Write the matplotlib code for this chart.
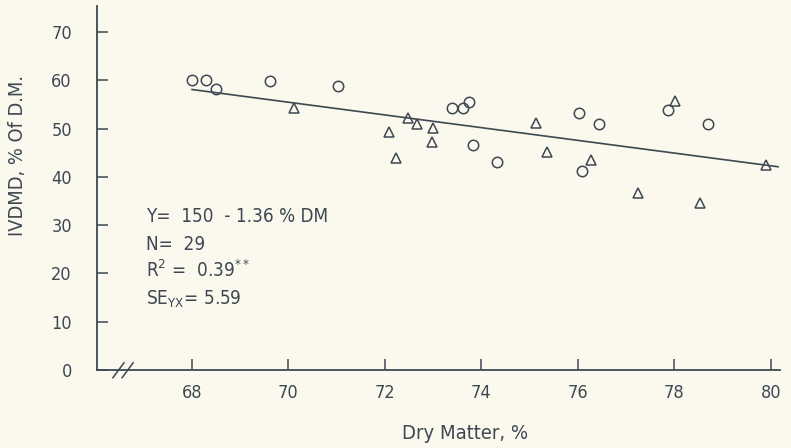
import matplotlib
matplotlib.use("Agg")
import matplotlib.pyplot as plt

# ── Data ────────────────────────────────────────────────────────────────────
circle_x = [67.99, 68.30, 68.49, 69.62, 71.03, 73.38, 73.61, 73.74, 73.82,
            74.32, 76.03, 76.44, 76.09, 77.87, 78.69]
circle_y = [60.0, 60.0, 58.3, 59.9, 58.9, 54.3, 54.2, 55.6, 46.7,
            43.1, 53.3, 51.0, 41.3, 53.8, 51.0]

tri_x = [70.11, 72.09, 72.23, 72.48, 72.67, 72.99, 72.97, 75.13, 75.35,
         76.28, 77.25, 78.02, 78.53, 79.90]
tri_y = [54.3, 49.3, 44.0, 52.1, 50.9, 50.2, 47.3, 51.2, 45.1,
         43.6, 36.7, 55.7, 34.6, 42.4]

fit_x = [68.0, 80.15]
fit_y = [58.1, 42.1]

x_ticks = [68, 70, 72, 74, 76, 78, 80]
y_ticks = [0, 10, 20, 30, 40, 50, 60, 70]

stats_lines = [
    r"Y=  150  - 1.36 % DM",
    r"N=  29",
    r"$\mathregular{R^2}$ =  0.39$\mathregular{^{**}}$",
    r"SE$\mathregular{_{YX}}$= 5.59",
]

# ── Style ───────────────────────────────────────────────────────────────────
INK = '#3d4852'
PAPER = '#fbf9ee'
plt.rcParams['font.family'] = ['DejaVu Sans']
plt.rcParams['font.stretch'] = 'condensed'
plt.rcParams['mathtext.fontset'] = 'custom'
plt.rcParams['mathtext.rm'] = 'DejaVu Sans:stretch=condensed'

fig = plt.figure(figsize=(7.91, 4.48), dpi=100, facecolor=PAPER)
ax = fig.add_axes([0.1226, 0.1741, 0.8635, 0.8125], facecolor=PAPER)

ax.plot(fit_x, fit_y, color=INK, linewidth=1.2)
ax.plot(circle_x, circle_y, linestyle='none', marker='o', markersize=7.5,
        markerfacecolor='none', markeredgecolor=INK, markeredgewidth=1.1)
ax.plot(tri_x, tri_y, linestyle='none', marker='^', markersize=7.5,
        markerfacecolor='none', markeredgecolor=INK, markeredgewidth=1.1)

ax.set_xlim(66.03, 80.19)
ax.set_ylim(0, 75.4)
ax.set_xticks(x_ticks)
ax.set_yticks(y_ticks)
ax.tick_params(direction='in', length=8, width=1.1, colors=INK, labelsize=13)
ax.tick_params(axis='y', pad=18)
ax.tick_params(axis='x', pad=10)
for lab in ax.get_xticklabels() + ax.get_yticklabels():
    lab.set_color(INK)

for side in ('top', 'right'):
    ax.spines[side].set_visible(False)
for side in ('left', 'bottom'):
    ax.spines[side].set_color(INK)
    ax.spines[side].set_linewidth(1.3)

# axis break marks
for x0 in (66.36, 66.55):
    ax.plot([x0, x0 + 0.23], [-1.6, 1.5], color=INK, linewidth=1.1, clip_on=False)

ax.set_xlabel('Dry Matter, %', fontsize=14.5, color=INK)
ax.xaxis.set_label_coords(73.66, -13.1, transform=ax.transData)
ax.set_ylabel('IVDMD, % Of D.M.', fontsize=14.3, color=INK)
ax.yaxis.set_label_coords(64.38, 44.5, transform=ax.transData)
ax.yaxis.label.set_va('center')
ax.xaxis.label.set_va('center')

for i, line in enumerate(stats_lines):
    ax.text(67.05, 30.6 - i * 5.7, line, fontsize=13.6, color=INK, va='baseline')

fig.savefig('out.png', dpi=100, facecolor=PAPER)
